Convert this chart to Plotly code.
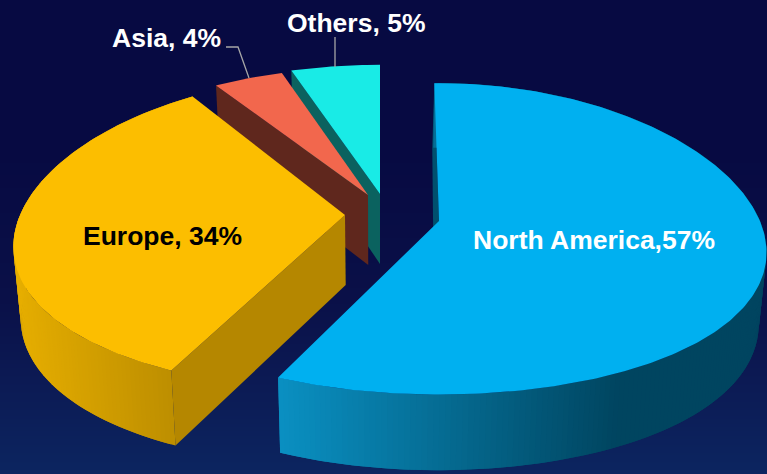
import numpy as np
import plotly.graph_objects as go

W, H = 767, 474

# chart data
names = ["North America", "Europe", "Asia", "Others"]
values = [57, 34, 4, 5]
labels = ["North America,57%", "Europe, 34%", "Asia, 4%", "Others, 5%"]
label_colors = ["#ffffff", "#000000", "#ffffff", "#ffffff"]

# styling
top_colors = ["#00b0f0", "#fcbe00", "#f2674d", "#19ebe6"]
radial_colors = ["#00506e", "#b58700", "#5f271d", "#0b625f"]
outer_left = ["#0a90c2", "#e6ae00", "#5f271d", "#0b625f"]
outer_right = ["#004560", "#bd8e00", "#5f271d", "#0b625f"]
apexes = [(439, 221), (345, 215), (368, 195), (380, 194)]
scale_x = [0.958, 0.97, 0.99, 1.02]
scale_y = [0.96, 0.97, 0.89, 0.90]
rotation = [-1.0, 0.0, 0.0, 0.0]
trim = [0.0, 0.8, 0.0, 0.0]
A, B, PX, PY, DEPTH, CX = 335.0, 160.0, 0.2, 0.115, 70.0, 380.0


def project(theta, i, z=0.0):
    t = np.radians(theta + rotation[i])
    u, v = np.sin(t), -np.cos(t)
    x = apexes[i][0] + A * scale_x[i] * u / (1 - PX * v)
    y = apexes[i][1] + B * scale_y[i] * v / (1 - PY * v)
    return extrude(x, y, v, z)


def extrude(x, y, v, z):
    return x + (CX - x) * 0.02 * z, y + DEPTH * (1 + 0.08 * v) * z


def hex_rgb(c):
    return np.array([int(c[k:k + 2], 16) for k in (1, 3, 5)], float)


def mix(a, b, f):
    c = hex_rgb(a) * (1 - f) + hex_rgb(b) * f
    return "rgb(%d,%d,%d)" % tuple(c.round())


def poly(xs, ys, color):
    return go.Scatter(x=xs, y=ys, mode="lines", fill="toself", fillcolor=color,
                      line=dict(color=color, width=0), hoverinfo="skip", showlegend=False)


fig = go.Figure()

# background gradient
bg_y = [0, 150, 300, 380, 474]
bg_colors = ["#070a42", "#070a42", "#0a1048", "#0c1a54", "#0c2560"]
bg_scale = [[y / 474, c] for y, c in zip(bg_y, bg_colors)]
fig.add_trace(go.Heatmap(x=[0, W], y=bg_y, z=[[y, y] for y in bg_y], colorscale=bg_scale,
                         zmin=0, zmax=474, showscale=False, hoverinfo="skip", zsmooth="best"))

# slice extents from the values
total = sum(values)
starts, ends, acc = [], [], 0.0
for n, val in enumerate(values):
    starts.append(acc / total * 360 + trim[n])
    acc += val
    ends.append(acc / total * 360 - trim[n])

for i in [3, 2, 0, 1]:  # back to front
    th = np.linspace(starts[i], ends[i], max(6, int((ends[i] - starts[i]) * 1.2)))
    ax, ay = apexes[i]
    bx, by = extrude(ax, ay, 0.0, 1.0)

    # radial wall on the side that faces the viewer
    x0, y0 = project(starts[i], i)
    x1, y1 = project(starts[i], i, 1.0)
    if i == 0:  # only a thin inner face shows at the top of this slice
        x1, bx = x1 - 1, bx - 4
    fig.add_trace(poly([ax, x0, x1, bx, ax], [ay, y0, y1, by, ay], radial_colors[i]))

    # outer wall as a shaded band: every strip overlaps the next so no seams show
    if i in (0, 1):
        pts_t = [project(t, i) for t in th]
        pts_b = [project(t, i, 1.0) for t in th]
        xs = [p[0] for p in pts_t]
        lo, hi = (278.0, 620.0) if i == 0 else (13.0, 172.0)
        order = range(len(th) - 1)
        for k in order:
            f = np.clip(((xs[k] + xs[k + 1]) / 2 - lo) / (hi - lo), 0, 1)
            k2 = min(k + 2, len(th) - 1)
            fig.add_trace(poly([pts_t[k][0], pts_t[k2][0], pts_b[k2][0], pts_b[k][0], pts_t[k][0]],
                               [pts_t[k][1], pts_t[k2][1], pts_b[k2][1], pts_b[k][1], pts_t[k][1]],
                               mix(outer_left[i], outer_right[i], f)))

    # top face
    pts = [project(t, i) for t in th]
    fig.add_trace(poly([ax] + [p[0] for p in pts] + [ax], [ay] + [p[1] for p in pts] + [ay], top_colors[i]))

# leader lines
fig.add_trace(go.Scatter(x=[226, 238, 249], y=[47, 47, 78], mode="lines",
                         line=dict(color="#a6a6a6", width=1.3), hoverinfo="skip", showlegend=False))
fig.add_trace(go.Scatter(x=[335, 335], y=[37, 67], mode="lines",
                         line=dict(color="#a6a6a6", width=1.3), hoverinfo="skip", showlegend=False))

label_pos = [(594, 240), (162, 236), (166, 38), (356, 23)]
for text, col, (lx, ly) in zip(labels, label_colors, label_pos):
    fig.add_annotation(x=lx, y=ly, text="<b>%s</b>" % text, showarrow=False,
                       font=dict(family="Liberation Sans", size=26.5, color=col))

fig.update_layout(width=W, height=H, margin=dict(l=0, r=0, t=0, b=0),
                  paper_bgcolor="#070a42", plot_bgcolor="#070a42", showlegend=False,
                  xaxis=dict(range=[0, W], visible=False, fixedrange=True),
                  yaxis=dict(range=[H, 0], visible=False, fixedrange=True))

fig.write_html("out.html", config=dict(displayModeBar=False),
               post_script="document.body.style.margin='0';")
